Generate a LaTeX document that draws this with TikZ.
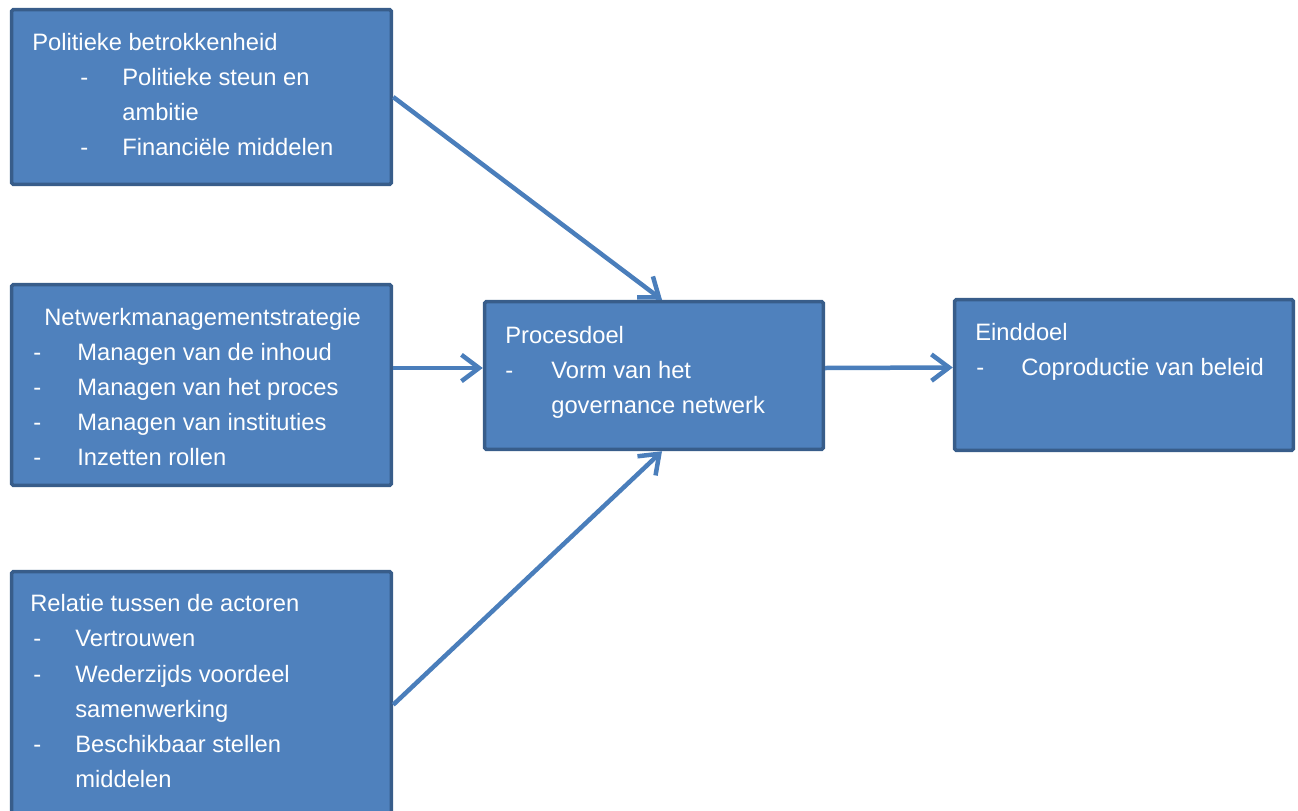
\documentclass[tikz,border=0pt]{standalone}
\usepackage{fontspec}
\setmainfont{Liberation Sans}
\definecolor{boxfill}{RGB}{79, 129, 189}
\definecolor{boxedge}{RGB}{56, 93, 138}
\definecolor{arrowblue}{RGB}{74, 126, 187}
\usetikzlibrary{arrows.meta, positioning, calc}
\newdimen\pxu
\pxu=0.02cm
\newcommand{\li}[3]{\hspace*{#1\pxu}\makebox[#2\pxu][l]{-}#3}
\begin{document}
\begin{tikzpicture}[
  x=0.02cm, y=-0.02cm,
  box/.style={draw=boxedge, fill=boxfill, line width=0.07cm, rounded corners=1pt, inner sep=0pt},
  txt/.style={anchor=north west, inner sep=0pt, align=left, text=white, font=\fontsize{13.5}{20}\selectfont},
  arr/.style={draw=arrowblue, line width=0.09cm, -{Straight Barb[length=10pt, width=15pt]}}
]
  \useasboundingbox (0,0) rectangle (1298,811);
  \node[box, minimum width=7.6cm, minimum height=3.5cm] (pol) at (201.5, 97) {};
  \node[box, minimum width=7.6cm, minimum height=4.02cm] (net) at (201.5, 385) {};
  \node[box, minimum width=7.6cm, minimum height=5.33cm] (rel) at (201.5, 704.75) {};
  \node[box, minimum width=6.78cm, minimum height=2.96cm] (proc) at (654, 375.5) {};
  \node[box, minimum width=6.78cm, minimum height=3.02cm] (eind) at (1124, 375) {};

  \node[txt] (polt) at (32, 32.8) {
    Politieke betrokkenheid\\
    \li{48}{42}{Politieke steun en}\\
    \hspace*{90\pxu}ambitie\\
    \li{48}{42}{Financiële middelen}
  };
  \node[txt] (nett) at (33, 307.8) {
    \hspace*{11\pxu}Netwerkmanagementstrategie\\
    \li{0}{44}{Managen van de inhoud}\\
    \li{0}{44}{Managen van het proces}\\
    \li{0}{44}{Managen van instituties}\\
    \li{0}{44}{Inzetten rollen}
  };
  \node[txt] (relt) at (30, 594.3) {
    Relatie tussen de actoren\\
    \li{3}{42}{Vertrouwen}\\
    \li{3}{42}{Wederzijds voordeel}\\
    \hspace*{45\pxu}samenwerking\\
    \li{3}{42}{Beschikbaar stellen}\\
    \hspace*{45\pxu}middelen
  };
  \node[txt] (proct) at (505, 325.8) {
    Procesdoel\\
    \li{0}{46}{Vorm van het}\\
    \hspace*{46\pxu}governance netwerk
  };
  \node[txt] (eindt) at (975, 322.8) {
    Einddoel\\
    \li{1}{45}{Coproductie van beleid}
  };

  \coordinate (pin) at ([yshift=0.15cm]proc.west);
  \draw[arr] (pol.east) -- ([xshift=0.16cm]proc.north);
  \draw[arr] (net.east |- pin) -- (pin);
  \draw[arr] (rel.east) -- ([xshift=0.16cm]proc.south);
  \draw[arr] ([yshift=0.15cm]proc.east) -- ([yshift=0.15cm]eind.west);
\end{tikzpicture}
\end{document}
